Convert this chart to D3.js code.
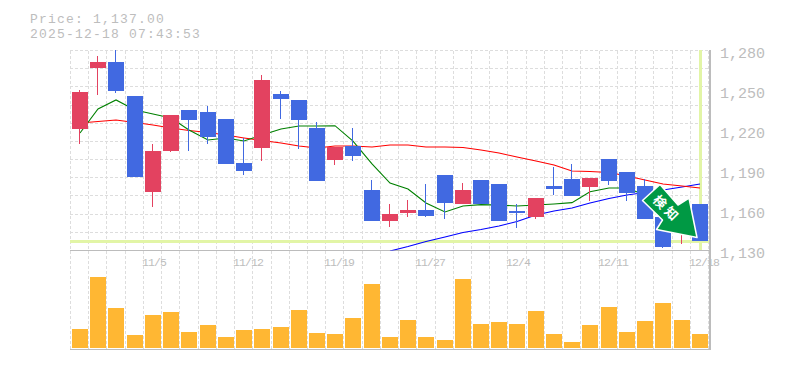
<!DOCTYPE html>
<html><head><meta charset="utf-8">
<script src="https://cdn.jsdelivr.net/npm/d3@7"></script>
<style>html,body{margin:0;padding:0;background:#fff}svg{display:block}text{font-family:"Liberation Mono","DejaVu Sans Mono",monospace;fill:#bdbdbd}</style>
</head><body><svg id="c" width="785" height="370"></svg>
<script>
const dates=["10/29","10/30","10/31","11/4","11/5","11/6","11/7","11/10","11/11","11/12","11/13","11/14","11/17","11/18","11/19","11/20","11/21","11/25","11/26","11/27","11/28","12/1","12/2","12/3","12/4","12/5","12/8","12/9","12/10","12/11","12/12","12/15","12/16","12/17","12/18"];
const tickDates=["11/5","11/12","11/19","11/27","12/4","12/11","12/18"];
const priceTicks=[1130,1160,1190,1220,1250,1280];
const open =[1221,1267,1271.5,1246,1174,1204.5,1235.5,1234,1228.5,1195.5,1207,1247.5,1243,1222,1198,1208.5,1175.5,1152,1158,1160.5,1186.5,1165,1183,1180,1159.5,1155,1178.5,1183.5,1177.5,1198.5,1189,1178.5,1155,1144,1165];
const close=[1249,1271.5,1250,1185,1204.5,1231.5,1228,1215.5,1195,1189.5,1258,1243.5,1228,1182,1207.5,1201,1152,1157.5,1160.5,1156,1165.5,1175.5,1165,1152,1158,1169.5,1176,1171,1184.5,1182,1173,1153.5,1132.5,1156.5,1137];
const high =[1250.5,1276,1284,1246,1210,1231.5,1235.5,1238.5,1228.5,1214.5,1261.5,1249.5,1243,1226.5,1207.5,1222,1183,1165,1168,1180,1186.5,1180.5,1183,1180,1165,1169.5,1192.5,1195,1184.5,1198.5,1189,1183.5,1155,1160,1165];
const low  =[1210,1246.5,1248.5,1185,1162.5,1204,1204.5,1210,1195,1186.5,1197,1228.5,1206,1182,1194,1197,1152,1147.5,1155,1155,1153.5,1165,1165,1152,1147,1153.5,1171.5,1171,1167,1179,1167,1153.5,1132,1135,1137];
const volume=[190,710,400,130,330,360,160,230,110,180,190,210,380,150,140,300,640,110,280,110,80,690,240,260,240,370,140,60,230,410,160,270,450,280,140];
const maShort=[1218.1,1236.1,1242.9,1235.4,1232.4,1229.4,1220.4,1212.9,1214.4,1212.1,1216.6,1221.1,1223.4,1223.4,1223.6,1212.1,1194.9,1180.6,1176.1,1165.6,1158.9,1163.4,1164.4,1164.1,1163.4,1164.1,1164.9,1165.9,1174.1,1176.9,1176.9,1171.6,1164.1,1158.9,1154.4];
const maMid=[1225.6,1226.8,1227.9,1226,1224.1,1221.9,1220,1218.5,1216.6,1214.4,1212.5,1210.6,1208.4,1206.9,1208.4,1208.4,1207.6,1209.1,1209.1,1207.6,1207.6,1207.25,1205.4,1203.1,1200.1,1197.1,1194.1,1189.6,1189.25,1188.5,1185.9,1182.9,1179.9,1178.4,1176.9];
const maLong=[null,null,null,null,null,null,null,null,null,null,null,null,null,null,null,null,null,1129.6,1133,1136.8,1140.1,1143.5,1145.75,1148.4,1151.75,1156.6,1159.6,1161.9,1165.6,1169,1171.6,1173.5,1175.4,1177.6,1179.9];
const lastPrice=1137, priceLabel="Price: 1,137.00", stamp="2025-12-18 07:43:53", badge=["検","知"];

const svg=d3.select("#c");
const L=71,R=709.02,T=50.5,B=250.5,VB=348;
const x=d3.scaleBand().domain(dates).range([L,R]);
const y=d3.scaleLinear().domain([1130,1280]).range([B,T]);
const yv=d3.scaleLinear().domain([0,1000]).range([VB,VB-100]);
const left=d=>Math.round(x(d)+1), mid=d=>left(d)+8;

svg.append("defs").append("clipPath").attr("id","pc").append("rect").attr("x",L-1).attr("y",T-.5).attr("width",R-L+1).attr("height",B-T+.5);

// grid
const g=svg.append("g").attr("stroke","#dddddd").attr("stroke-dasharray","3 2").attr("shape-rendering","crispEdges");
g.selectAll(".v").data(dates.concat(["end"])).join("line")
 .attr("x1",(d,i)=>Math.round(L+i*x.step())-1+.5).attr("x2",(d,i)=>Math.round(L+i*x.step())-1+.5).attr("y1",T).attr("y2",349);
g.selectAll(".h").data(d3.range(12)).join("line")
 .attr("x1",L-1).attr("x2",R).attr("y1",k=>Math.round(y(1130+k*150/11)-.5)+.5).attr("y2",k=>Math.round(y(1130+k*150/11)-.5)+.5);

// current price cross
const cur=svg.append("g").attr("stroke","#e2f5a6").attr("stroke-width",3).attr("shape-rendering","crispEdges");
cur.append("line").attr("x1",L-1).attr("x2",R).attr("y1",y(lastPrice)).attr("y2",y(lastPrice));
cur.append("line").attr("x1",mid(dates[34])+.5).attr("x2",mid(dates[34])+.5).attr("y1",T-.5).attr("y2",B-1);

// frame
const fr=svg.append("g").attr("stroke","#bcbcbc").attr("shape-rendering","crispEdges");
[[L-1,250.5,710.5,250.5],[L-1,349.5,710.5,349.5],[710,T-.5,710,350]].forEach(a=>fr.append("line").attr("x1",a[0]).attr("y1",a[1]).attr("x2",a[2]).attr("y2",a[3]).attr("stroke-width",1.5));

// moving averages (under the candles)
const plot=svg.append("g").attr("clip-path","url(#pc)");
[[maLong,"#0000ff"],[maMid,"#ff0000"],[maShort,"#008000"]].forEach(([s,c])=>{
 const ln=d3.line().defined(d=>d!=null).x((d,i)=>mid(dates[i])).y(d=>y(d));
 plot.append("path").attr("d",ln(s)).attr("fill","none").attr("stroke",c).attr("stroke-width",1.1);
});

// candles
const col=i=>close[i]>=open[i]?"#e34260":"#4169e1";
plot.selectAll(".w").data(dates).join("rect").attr("x",d=>mid(d)-1).attr("width",1)
 .attr("y",(d,i)=>Math.round(y(high[i]))).attr("height",(d,i)=>Math.round(y(low[i]))-Math.round(y(high[i]))).attr("fill",(d,i)=>col(i));
plot.selectAll(".b").data(dates).join("rect").attr("x",d=>left(d)).attr("width",16)
 .attr("y",(d,i)=>Math.round(y(Math.max(open[i],close[i])))).attr("height",(d,i)=>Math.max(1,Math.round(y(Math.min(open[i],close[i])))-Math.round(y(Math.max(open[i],close[i]))))).attr("fill",(d,i)=>col(i));

// volume
svg.append("g").selectAll("rect").data(dates).join("rect").attr("x",d=>left(d)).attr("width",16)
 .attr("y",(d,i)=>yv(volume[i])).attr("height",(d,i)=>VB-yv(volume[i])).attr("fill","#ffb733");

// labels
svg.append("text").attr("x",30).attr("y",23).attr("font-size",13).attr("letter-spacing",1.2).text(priceLabel);
svg.append("text").attr("x",30).attr("y",38).attr("font-size",13).attr("letter-spacing",1.2).text(stamp);
svg.append("g").selectAll("text").data(priceTicks).join("text").attr("x",720).attr("y",d=>y(d)+7.5).attr("font-size",15)
 .text(d=>d3.format(",")(d));
svg.append("g").selectAll("text").data(tickDates).join("text").attr("x",d=>mid(d)-11).attr("y",266).attr("font-size",11.5).attr("letter-spacing",-0.9).text(d=>d);

// signal badge
const a=svg.append("g");
a.append("path").attr("d","M660,184.5L642.5,200.5L662.5,220L656.5,229.5L697,237.5L689,198L678,205Z")
 .attr("fill","#009944").attr("stroke","#fff").attr("stroke-width",1.5).attr("stroke-linejoin","round");
badge.forEach((c,i)=>a.append("text").attr("transform",`translate(${660+i*11.5},${202+i*11.5}) rotate(45)`)
 .attr("text-anchor","middle").attr("dy","0.36em").attr("font-size",13).attr("font-weight",700)
 .style("font-family",'"Noto Sans CJK JP"').style("fill","#fff").text(c));
</script></body></html>
